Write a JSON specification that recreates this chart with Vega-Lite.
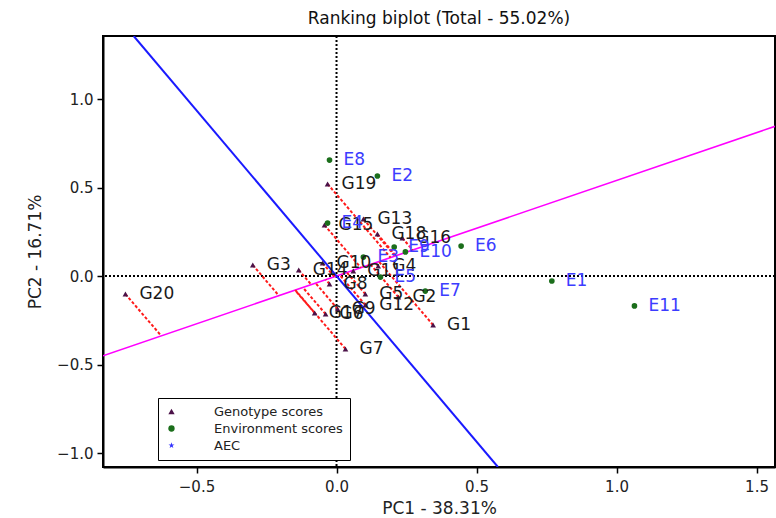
{
  "$schema": "https://vega.github.io/schema/vega-lite/v6.json",
  "width": 672,
  "height": 431,
  "autosize": {"type": "none"},
  "padding": {"left": 103, "top": 36, "right": 1, "bottom": 51},
  "background": "white",
  "title": {"text": "Ranking biplot (Total - 55.02%)", "font": "DejaVu Sans", "fontSize": 17, "fontWeight": "normal", "color": "#111111", "offset": 7, "anchor": "middle"},
  "config": {
    "view": {"stroke": "black", "strokeWidth": 2},
    "axis": {"grid": false, "domainColor": "black", "domainWidth": 2, "tickColor": "black", "tickWidth": 1.5, "tickSize": 6, "labelFont": "DejaVu Sans", "labelFontSize": 15, "labelColor": "#222222", "titleFont": "DejaVu Sans", "titleFontSize": 17, "titleFontWeight": "normal", "titleColor": "#222222"},
    "axisX": {"labelPadding": 6, "titlePadding": 6},
    "axisY": {"labelPadding": 4, "titlePadding": 12}
  },
  "datasets": {
    "pts": [
      {"name": "G1", "kind": "Genotype scores", "x": 0.345, "y": -0.277, "fx": 0.151, "fy": 0.082},
      {"name": "G2", "kind": "Genotype scores", "x": 0.221, "y": -0.119, "fx": 0.121, "fy": 0.066},
      {"name": "G3", "kind": "Genotype scores", "x": -0.299, "y": 0.062, "fx": -0.206, "fy": -0.111},
      {"name": "G4", "kind": "Genotype scores", "x": 0.149, "y": 0.056, "fx": 0.139, "fy": 0.075},
      {"name": "G5", "kind": "Genotype scores", "x": 0.103, "y": -0.102, "fx": 0.037, "fy": 0.020},
      {"name": "G6", "kind": "Genotype scores", "x": -0.039, "y": -0.215, "fx": -0.120, "fy": -0.065},
      {"name": "G7", "kind": "Genotype scores", "x": 0.032, "y": -0.412, "fx": -0.147, "fy": -0.080},
      {"name": "G8", "kind": "Genotype scores", "x": -0.025, "y": -0.045, "fx": -0.038, "fy": -0.021},
      {"name": "G9", "kind": "Genotype scores", "x": 0.004, "y": -0.186, "fx": -0.075, "fy": -0.040},
      {"name": "G10", "kind": "Genotype scores", "x": -0.050, "y": 0.073, "fx": -0.008, "fy": -0.004},
      {"name": "G11", "kind": "Genotype scores", "x": 0.060, "y": 0.028, "fx": 0.058, "fy": 0.031},
      {"name": "G12", "kind": "Genotype scores", "x": 0.103, "y": -0.164, "fx": 0.011, "fy": 0.006},
      {"name": "G13", "kind": "Genotype scores", "x": 0.096, "y": 0.322, "fx": 0.209, "fy": 0.113},
      {"name": "G14", "kind": "Genotype scores", "x": -0.135, "y": 0.034, "fx": -0.090, "fy": -0.049},
      {"name": "G15", "kind": "Genotype scores", "x": -0.043, "y": 0.288, "fx": 0.087, "fy": 0.047},
      {"name": "G16", "kind": "Genotype scores", "x": 0.235, "y": 0.215, "fx": 0.272, "fy": 0.147},
      {"name": "G17", "kind": "Genotype scores", "x": -0.078, "y": -0.209, "fx": -0.148, "fy": -0.080},
      {"name": "G18", "kind": "Genotype scores", "x": 0.146, "y": 0.237, "fx": 0.212, "fy": 0.115},
      {"name": "G19", "kind": "Genotype scores", "x": -0.032, "y": 0.520, "fx": 0.193, "fy": 0.104},
      {"name": "G20", "kind": "Genotype scores", "x": -0.754, "y": -0.102, "fx": -0.626, "fy": -0.338},
      {"name": "E1", "kind": "Environment scores", "x": 0.769, "y": -0.028},
      {"name": "E2", "kind": "Environment scores", "x": 0.146, "y": 0.565},
      {"name": "E3", "kind": "Environment scores", "x": 0.096, "y": 0.107},
      {"name": "E4", "kind": "Environment scores", "x": -0.032, "y": 0.299},
      {"name": "E5", "kind": "Environment scores", "x": 0.157, "y": -0.006},
      {"name": "E6", "kind": "Environment scores", "x": 0.445, "y": 0.169},
      {"name": "E7", "kind": "Environment scores", "x": 0.317, "y": -0.085},
      {"name": "E8", "kind": "Environment scores", "x": -0.025, "y": 0.655},
      {"name": "E9", "kind": "Environment scores", "x": 0.206, "y": 0.164},
      {"name": "E10", "kind": "Environment scores", "x": 0.246, "y": 0.136},
      {"name": "E11", "kind": "Environment scores", "x": 1.064, "y": -0.169}
    ]
  },
  "layer": [
    {
      "data": {"values": [{"v": 0}]},
      "mark": {"type": "rule", "color": "black", "strokeWidth": 2, "strokeDash": [2, 2]},
      "encoding": {
        "x": {"field": "v", "type": "quantitative", "title": "PC1 - 38.31%", "scale": {"domain": [-0.834, 1.566], "nice": false, "zero": false}, "axis": {"values": [-0.5, 0, 0.5, 1, 1.5], "format": ".1f"}}
      }
    },
    {
      "data": {"values": [{"v": 0}]},
      "mark": {"type": "rule", "color": "black", "strokeWidth": 2, "strokeDash": [2, 2]},
      "encoding": {
        "y": {"field": "v", "type": "quantitative", "title": "PC2 - 16.71%", "scale": {"domain": [-1.079, 1.356], "nice": false, "zero": false}, "axis": {"values": [-1, -0.5, 0, 0.5, 1], "format": ".1f"}}
      }
    },
    {
      "data": {"values": [{"x": -0.834, "y": -0.4504, "x2": 1.566, "y2": 0.8456}]},
      "mark": {"type": "rule", "color": "#ff00ff", "strokeWidth": 1.6, "clip": true},
      "encoding": {
        "x": {"field": "x", "type": "quantitative", "title": "PC1 - 38.31%"},
        "y": {"field": "y", "type": "quantitative", "title": "PC2 - 16.71%"},
        "x2": {"field": "x2"},
        "y2": {"field": "y2"}
      }
    },
    {
      "data": {"values": [{"x": -0.7244, "y": 1.356, "x2": 0.5764, "y2": -1.079}]},
      "mark": {"type": "rule", "color": "#1a1aff", "strokeWidth": 2, "clip": true},
      "encoding": {
        "x": {"field": "x", "type": "quantitative", "title": "PC1 - 38.31%"},
        "y": {"field": "y", "type": "quantitative", "title": "PC2 - 16.71%"},
        "x2": {"field": "x2"},
        "y2": {"field": "y2"}
      }
    },
    {
      "data": {"name": "pts"},
      "transform": [{"filter": "datum.kind === 'Genotype scores'"}],
      "mark": {"type": "rule", "color": "#ff1a1a", "strokeWidth": 2, "strokeDash": [3, 2]},
      "encoding": {
        "x": {"field": "x", "type": "quantitative", "title": "PC1 - 38.31%"},
        "y": {"field": "y", "type": "quantitative", "title": "PC2 - 16.71%"},
        "x2": {"field": "fx"},
        "y2": {"field": "fy"}
      }
    },
    {
      "data": {"name": "pts"},
      "mark": {"type": "point", "filled": true, "size": 32, "opacity": 1},
      "encoding": {
        "x": {"field": "x", "type": "quantitative", "title": "PC1 - 38.31%"},
        "y": {"field": "y", "type": "quantitative", "title": "PC2 - 16.71%"},
        "color": {"field": "kind", "type": "nominal", "scale": {"domain": ["Genotype scores", "Environment scores", "AEC"], "range": ["#4b1248", "#1b6e1b", "#3333ff"]},
          "legend": {"title": null, "orient": "none", "legendX": 55, "legendY": 362, "strokeColor": "black", "fillColor": "white", "padding": 7, "labelFont": "DejaVu Sans", "labelFontSize": 13, "labelColor": "#222222", "symbolSize": 40, "labelOffset": 36, "rowPadding": 3}},
        "shape": {"field": "kind", "type": "nominal", "scale": {"domain": ["Genotype scores", "Environment scores", "AEC"], "range": ["triangle-up", "circle", "M0,-1L0.2245,-0.309L0.951,-0.309L0.363,0.118L0.588,0.809L0,0.382L-0.588,0.809L-0.363,0.118L-0.951,-0.309L-0.2245,-0.309Z"]},
          "legend": {"title": null, "orient": "none", "legendX": 55, "legendY": 362, "strokeColor": "black", "fillColor": "white", "padding": 7, "labelFont": "DejaVu Sans", "labelFontSize": 13, "labelColor": "#222222", "symbolSize": 40, "labelOffset": 36, "rowPadding": 3}}
      }
    },
    {
      "data": {"name": "pts"},
      "transform": [{"filter": "datum.kind === 'Genotype scores'"}],
      "mark": {"type": "text", "align": "left", "baseline": "middle", "dx": 14, "font": "DejaVu Sans", "fontSize": 17, "color": "#1a1a1a"},
      "encoding": {
        "x": {"field": "x", "type": "quantitative", "title": "PC1 - 38.31%"},
        "y": {"field": "y", "type": "quantitative", "title": "PC2 - 16.71%"},
        "text": {"field": "name"}
      }
    },
    {
      "data": {"name": "pts"},
      "transform": [{"filter": "datum.kind === 'Environment scores'"}],
      "mark": {"type": "text", "align": "left", "baseline": "middle", "dx": 14, "font": "DejaVu Sans", "fontSize": 17, "color": "#3c3cff"},
      "encoding": {
        "x": {"field": "x", "type": "quantitative", "title": "PC1 - 38.31%"},
        "y": {"field": "y", "type": "quantitative", "title": "PC2 - 16.71%"},
        "text": {"field": "name"}
      }
    }
  ]
}
